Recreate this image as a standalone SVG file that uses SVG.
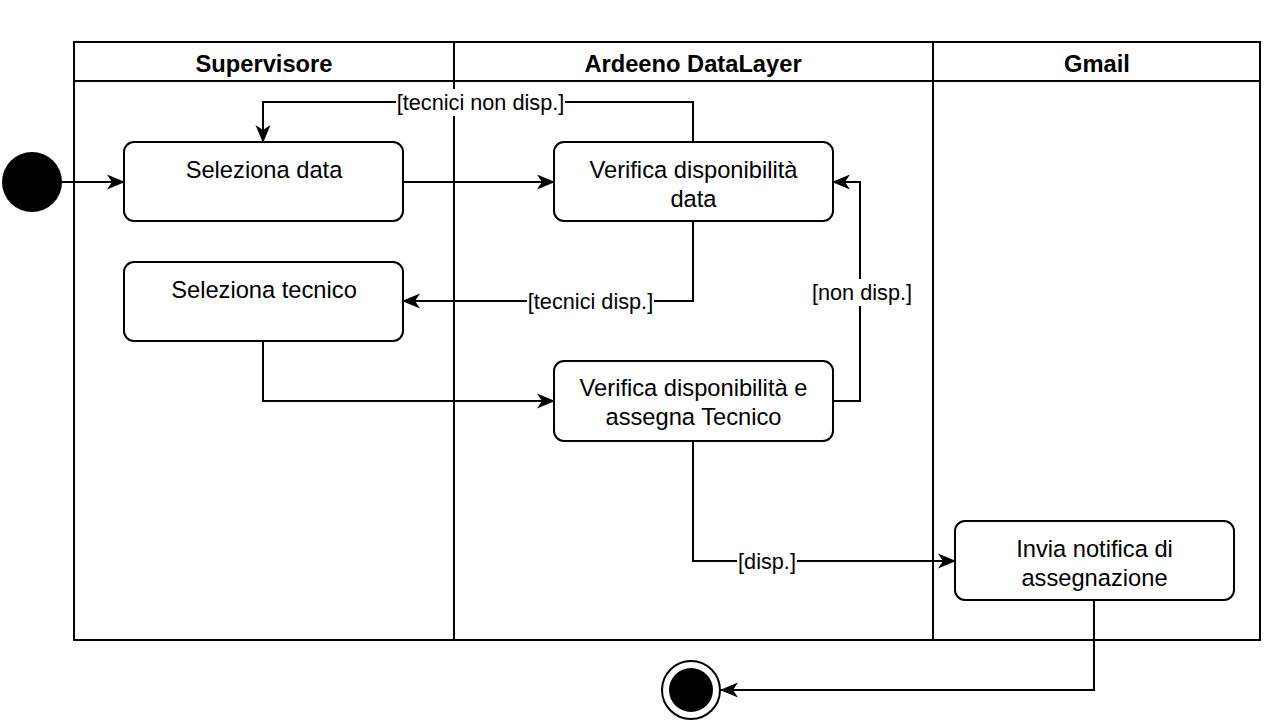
<svg xmlns="http://www.w3.org/2000/svg" width="1265" height="725" viewBox="0 0 1265 725">
<defs>
<style>
.lane{fill:none;stroke:#000;stroke-width:2}
.node{fill:#fff;stroke:#000;stroke-width:2}
.txt{font-family:"Liberation Sans",Arial,sans-serif;font-size:23.7px;fill:#000;text-anchor:middle}
.hdr{font-family:"Liberation Sans",Arial,sans-serif;font-size:23.7px;font-weight:bold;fill:#000;text-anchor:middle}
.lbl{font-family:"Liberation Sans",Arial,sans-serif;font-size:21.7px;fill:#000;text-anchor:middle}
.edge{fill:none;stroke:#000;stroke-width:2}
.lblbg{fill:#fff}
</style>
<marker id="arr" markerUnits="userSpaceOnUse" markerWidth="18" markerHeight="18" viewBox="0 0 18 18" refX="17" refY="9" orient="auto">
<path d="M0,1.5 L18,9 L0,16.5 L5,9 Z" fill="#000"/>
</marker>
</defs>
<rect width="1265" height="725" fill="#fff"/>
<g id="pool">
<rect class="lane" x="74" y="42" width="1186" height="598"/>
<line class="lane" x1="74" y1="81" x2="1260" y2="81"/>
<line class="lane" x1="454" y1="42" x2="454" y2="640"/>
<line class="lane" x1="933" y1="42" x2="933" y2="640"/>
<text class="hdr" x="264" y="71.5">Supervisore</text>
<text class="hdr" x="693" y="71.5">Ardeeno DataLayer</text>
<text class="hdr" x="1097" y="71.5">Gmail</text>
</g>
<g id="connectors">
<path class="edge" d="M62,182 L124,182" marker-end="url(#arr)"/>
<path class="edge" d="M403,182 L554,182" marker-end="url(#arr)"/>
<path class="edge" d="M693,142 L693,102 L263,102 L263,142" marker-end="url(#arr)"/>
<path class="edge" d="M693,221 L693,301 L403,301" marker-end="url(#arr)"/>
<path class="edge" d="M263,341 L263,401 L554,401" marker-end="url(#arr)"/>
<path class="edge" d="M833,401 L860,401 L860,182 L833,182" marker-end="url(#arr)"/>
<path class="edge" d="M693,441 L693,561 L955,561" marker-end="url(#arr)"/>
<path class="edge" d="M1094,600 L1094,690 L721,690" marker-end="url(#arr)"/>
<rect class="lblbg" x="396" y="89" width="169" height="27"/>
<text class="lbl" x="480.5" y="109.5">[tecnici non disp.]</text>
<rect class="lblbg" x="527" y="288" width="127" height="27"/>
<text class="lbl" x="590.5" y="308.5">[tecnici disp.]</text>
<rect class="lblbg" x="811" y="279" width="102" height="27"/>
<text class="lbl" x="862" y="299.5">[non disp.]</text>
<rect class="lblbg" x="737" y="548" width="60" height="27"/>
<text class="lbl" x="767" y="568.5">[disp.]</text>
</g>
<g id="start">
<circle cx="32" cy="182" r="30" fill="#000"/>
</g>
<g id="seleziona-data">
<rect class="node" x="124" y="142" width="279" height="79" rx="10"/>
<text class="txt" x="264" y="177.5">Seleziona data</text>
</g>
<g id="seleziona-tecnico">
<rect class="node" x="124" y="262" width="279" height="79" rx="10"/>
<text class="txt" x="264" y="297.5">Seleziona tecnico</text>
</g>
<g id="verifica-data">
<rect class="node" x="554" y="142" width="279" height="79" rx="10"/>
<text class="txt" x="693.5" y="177.5">Verifica disponibilità</text>
<text class="txt" x="693.5" y="206.5">data</text>
</g>
<g id="verifica-assegna">
<rect class="node" x="554" y="361" width="279" height="80" rx="10"/>
<text class="txt" x="693.5" y="396">Verifica disponibilità e</text>
<text class="txt" x="693.5" y="425">assegna Tecnico</text>
</g>
<g id="invia-notifica">
<rect class="node" x="955" y="521" width="279" height="79" rx="10"/>
<text class="txt" x="1094.5" y="556.5">Invia notifica di</text>
<text class="txt" x="1094.5" y="585.5">assegnazione</text>
</g>
<g id="end">
<circle cx="691" cy="690" r="29" fill="#fff" stroke="#000" stroke-width="2"/>
<circle cx="691" cy="690" r="22" fill="#000"/>
</g>
</svg>
